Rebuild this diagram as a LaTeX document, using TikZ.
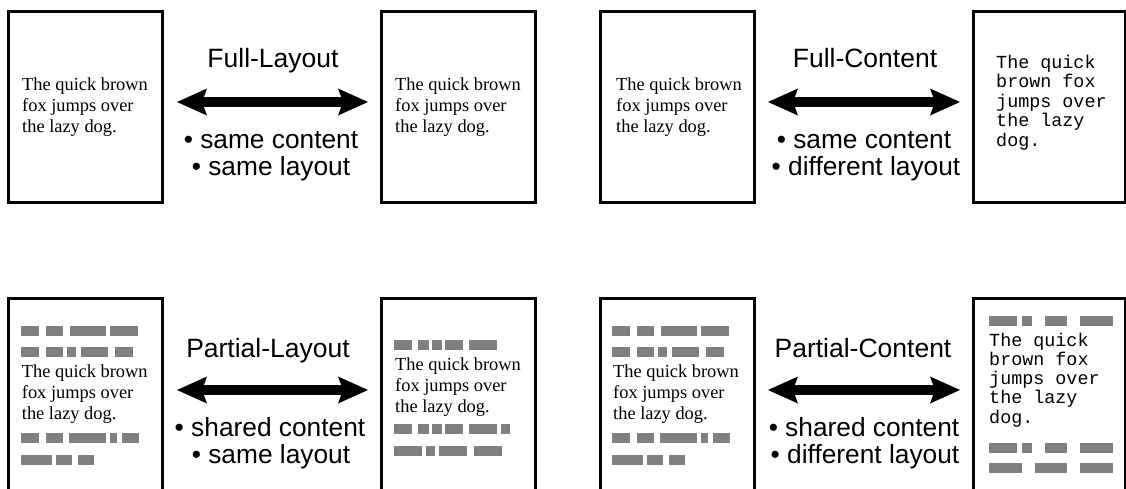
\documentclass[tikz,border=0pt]{standalone}
\usepackage{fontspec}
\setmainfont{Liberation Serif}
\newfontfamily\labelsans{Liberation Sans}
\newfontfamily\pagemono{Liberation Mono}
\usetikzlibrary{arrows.meta}
\definecolor{bargray}{RGB}{128,128,128}
\tikzset{
  page/.style={draw=black, line width=3pt, rectangle, minimum width=154pt,
    minimum height=191.5pt, inner sep=0pt, outer sep=0pt, anchor=north west},
  serifline/.style={anchor=base west, inner sep=0pt, font=\fontsize{18.4}{21}\selectfont},
  monoline/.style={anchor=base west, inner sep=0pt, font=\pagemono\fontsize{18.4}{19.5}\selectfont},
  titlelabel/.style={anchor=base, inner sep=0pt, font=\labelsans\fontsize{26.5}{28}\selectfont},
  bulletlabel/.style={anchor=base, inner sep=0pt, font=\labelsans\fontsize{26.3}{27}\selectfont},
  relation/.style={line width=10pt,
    {Stealth[length=30pt,width=27pt,inset=5pt,line width=0pt]}-{Stealth[length=30pt,width=27pt,inset=5pt,line width=0pt]}},
  bar/.style={fill=bargray, draw=none},
}
\newcommand\drawbars[4]{\foreach \a/\b in {#4} {\fill[bar] ({#1+\a},#2) rectangle ({#1+\b},#3);}}
\begin{document}
\begin{tikzpicture}[x=1pt,y=-1pt]
\clip (0,0) rectangle (1126,488);
\fill[white] (0,0) rectangle (1126,488);

% ---------- top row ----------
\node[page] (p1) at (8.8,11.2) {};
\node[page] (p2) at (381.3,11.2) {};
\node[page] (p3) at (600.3,11.2) {};
\node[page, minimum width=151.5pt] (p4) at (973.7,11.2) {};

\foreach \t [count=\i] in {The quick brown, fox jumps over, the lazy dog.}
  \node[serifline] (p1l\i) at (22,{69+21*\i}) {\t};
\foreach \t [count=\i] in {The quick brown, fox jumps over, the lazy dog.}
  \node[serifline] (p2l\i) at (395,{69+21*\i}) {\t};
\foreach \t [count=\i] in {The quick brown, fox jumps over, the lazy dog.}
  \node[serifline] (p3l\i) at (616,{69+21*\i}) {\t};
\foreach \t [count=\i] in {The quick, brown fox, jumps over, the lazy, dog.}
  \node[monoline] (p4l\i) at (996,{48.5+19.5*\i}) {\t};

\node[titlelabel] (t1) at (273,67) {Full-Layout};
\coordinate (a1w) at (177,102);
\coordinate (a1e) at (368,102);
\draw[relation] (a1w) -- (a1e);
\node[bulletlabel] (b1a) at (271,148) {• same content};
\node[bulletlabel] (b1b) at (271,175) {• same layout};

\node[titlelabel] (t2) at (865,67) {Full-Content};
\coordinate (a2w) at (768,102);
\coordinate (a2e) at (960,102);
\draw[relation] (a2w) -- (a2e);
\node[bulletlabel] (b2a) at (864,148) {• same content};
\node[bulletlabel] (b2b) at (866,175) {• different layout};

% ---------- bottom row ----------
\node[page] (q1) at (8.8,298.8) {};
\node[page] (q2) at (381.3,298.8) {};
\node[page] (q3) at (600.3,298.8) {};
\node[page, minimum width=151.5pt] (q4) at (973.7,298.8) {};

% box 1 and box 3 bars
\foreach \base in {21,612} {
  \drawbars{\base}{326}{336}{0/18,25/42,49/85,89/117}
  \drawbars{\base}{347}{357}{0/18,25/42,46/55,60/87,94/112}
  \drawbars{\base}{433}{443}{0/18,25/42,48/85,89/96,101/118}
  \drawbars{\base}{455}{465}{0/31,35/51,57/73}
}
% box 2 bars
\drawbars{394}{340}{350}{0/18,24/35,38/48,51/69,75/103}
\drawbars{394}{424}{434}{0/18,24/35,38/48,51/69,75/103,107/116}
\drawbars{394}{446}{456}{0/28,32/41,45/73,80/108}
% box 4 bars
\drawbars{989}{315.5}{325.5}{0/28,33/43,56/78,91/124}
\drawbars{989}{443}{453}{0/28,33/43,56/78,91/124}
\drawbars{989}{463}{473}{0/33,46/78,91/124}

\foreach \t [count=\i] in {The quick brown, fox jumps over, the lazy dog.}
  \node[serifline] (q1l\i) at (21.7,{356+21*\i}) {\t};
\foreach \t [count=\i] in {The quick brown, fox jumps over, the lazy dog.}
  \node[serifline] (q2l\i) at (395,{349+21*\i}) {\t};
\foreach \t [count=\i] in {The quick brown, fox jumps over, the lazy dog.}
  \node[serifline] (q3l\i) at (613,{356+21*\i}) {\t};
\foreach \t [count=\i] in {The quick, brown fox, jumps over, the lazy, dog.}
  \node[monoline] (q4l\i) at (989,{326.75+19.25*\i}) {\t};

\node[titlelabel] (t3) at (268,357) {Partial-Layout};
\coordinate (a3w) at (177,390);
\coordinate (a3e) at (368,390);
\draw[relation] (a3w) -- (a3e);
\node[bulletlabel] (b3a) at (270,436) {• shared content};
\node[bulletlabel] (b3b) at (271,463) {• same layout};

\node[titlelabel] (t4) at (863,357) {Partial-Content};
\coordinate (a4w) at (768,390);
\coordinate (a4e) at (960,390);
\draw[relation] (a4w) -- (a4e);
\node[bulletlabel] (b4a) at (864,436) {• shared content};
\node[bulletlabel] (b4b) at (865,463) {• different layout};
\end{tikzpicture}
\end{document}
